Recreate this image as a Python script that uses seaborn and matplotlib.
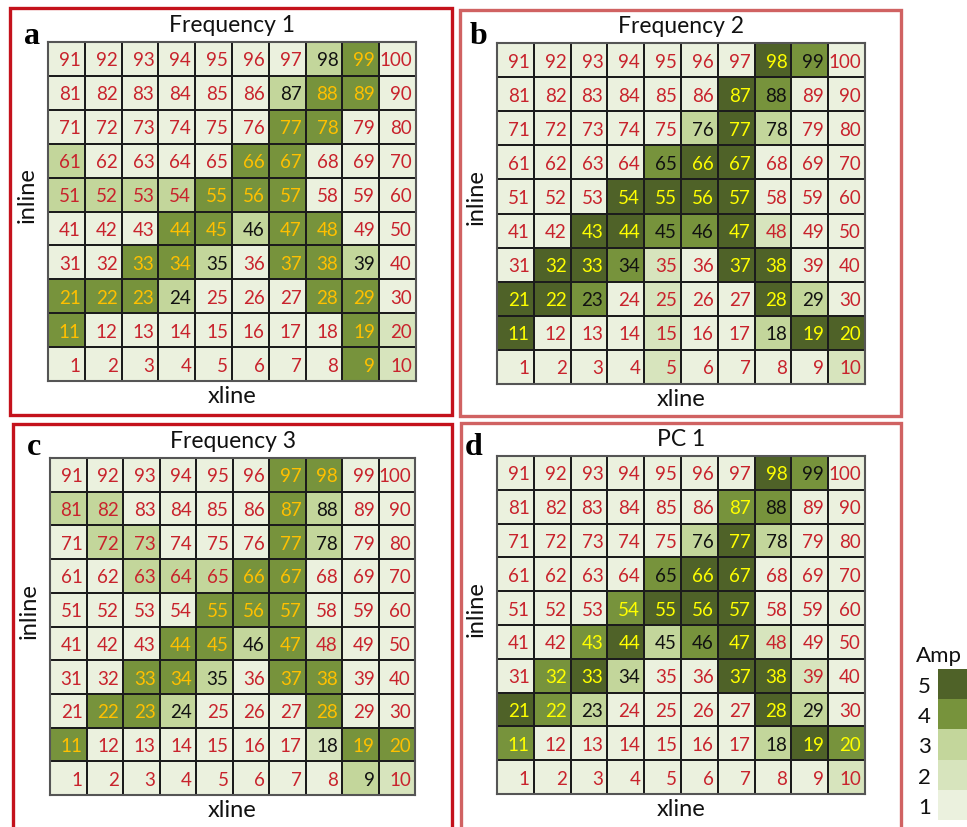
import numpy as np
import pandas as pd
import matplotlib
matplotlib.use("Agg")
import matplotlib.pyplot as plt
from matplotlib.colors import ListedColormap, BoundaryNorm
from matplotlib.patches import Rectangle
import matplotlib.cm as cm
import seaborn as sns

sns.set_theme(style="white")
plt.rcParams['font.family'] = ['Lato', 'DejaVu Sans']

# ---------------- data ----------------
titles = ["Frequency 1", "Frequency 2", "Frequency 3", "PC 1"]
letters = ["a", "b", "c", "d"]
amp_levels = [1, 2, 3, 4, 5]
level_colors = ['#ebf1de', '#d7e4bd', '#c3d69b', '#77933c', '#4f6228']

# rows from top (91-100) to bottom (1-10); digit = amplitude class
amp_a = ["1111111341", "1111113441", "1111114411", "3111144111", "3333444111",
         "1114434411", "1144314431", "4443111441", "4111111142", "1111111142"]
amp_b = ["1111111541", "1111115411", "1111135311", "1111455111", "1115555111",
         "1155445211", "1554215511", "5541211531", "5111211355", "1111211112"]
amp_c = ["1111114411", "3311114311", "1331114311", "1133344111", "1111444111",
         "1114434211", "1144314411", "1443111411", "4111111244", "1111111132"]
amp_d = ["1111111541", "1111114411", "1111135311", "1111455111", "1114555111",
         "1145345211", "1453115521", "5431111531", "4111111354", "1111111112"]

# label colour codes: r = red, k = black, o = orange, y = yellow
txt_a = ["rrrrrrrkor", "rrrrrrkoor", "rrrrrroorr", "rrrrroorrr", "rrrrooorrr",
         "rrrookoorr", "rrookrookr", "oookrrroor", "orrrrrrror", "rrrrrrrror"]
txt_b = ["rrrrrrrykr", "rrrrrrykrr", "rrrrrkykrr", "rrrrkyyrrr", "rrryyyyrrr",
         "rryykkyrrr", "ryykrryyrr", "yykrrrrykr", "yrrrrrrkyy", "rrrrrrrrrr"]
txt_c = ["rrrrrroorr", "rrrrrrokrr", "rrrrrrokrr", "rrrrroorrr", "rrrrooorrr",
         "rrrookorrr", "rrookroorr", "rookrrrorr", "orrrrrrkoo", "rrrrrrrrkr"]
txt_d = ["rrrrrrrykr", "rrrrrrykrr", "rrrrrkykrr", "rrrrkyyrrr", "rrryyyyrrr",
         "rryykkyrrr", "ryykrryyrr", "yykrrrrykr", "yrrrrrrkyy", "rrrrrrrrrr"]

inline_rows = list(range(10, 0, -1))
xline_cols = list(range(1, 11))

amps = [amp_a, amp_b, amp_c, amp_d]
txts = [txt_a, txt_b, txt_c, txt_d]
text_colors = {'r': '#c8232c', 'k': '#111111', 'o': '#ffc000', 'y': '#ffff00'}

# ---------------- layout ----------------
W, H = 967, 828
fig = plt.figure(figsize=(W / 100, H / 100), dpi=100)

def fx(px):
    return px / W

def fy(py):
    return 1 - py / H

# heatmap boxes in pixels: left, top, right, bottom
hm_boxes = [(48, 43, 416, 382), (497, 44, 865, 385),
            (50, 459, 415, 796), (497, 457, 865, 795)]
frame_boxes = [(10, 9, 452, 416), (460, 11, 901, 417),
               (13, 425, 452, 830), (461, 424, 901, 830)]
frame_colors = ['#c4121c', '#d06262', '#c4121c', '#d06262']
letter_pos = [(32, 36), (479, 36), (34, 448), (474, 448)]

cmap = ListedColormap(level_colors)

for k in range(4):
    l, t, r, b = hm_boxes[k]
    ax = fig.add_axes([fx(l), fy(b), fx(r) - fx(l), fy(t) - fy(b)])
    grid = np.array([[int(ch) for ch in row] for row in amps[k]])
    nums = np.array([[(inline_rows[i] - 1) * 10 + xline_cols[j] for j in range(10)]
                     for i in range(10)])
    df = pd.DataFrame(grid, index=inline_rows, columns=xline_cols)
    sns.heatmap(df, ax=ax, cmap=cmap, vmin=0.5, vmax=5.5, cbar=False,
                linewidths=1.1, linecolor='#1c1c1c',
                annot=nums.astype(str), fmt='',
                annot_kws=dict(fontsize=13.5))
    codes = "".join(txts[k])
    for idx, tx in enumerate(ax.texts):
        x0, y0 = tx.get_position()
        tx.set_position((x0 + 0.39, y0 + 0.03))
        tx.set_ha('right')
        tx.set_color(text_colors[codes[idx]])
    ax.set_xticks([])
    ax.set_yticks([])
    ax.set_xlabel("")
    ax.set_ylabel("")
    for sp in ax.spines.values():
        sp.set_visible(True)
        sp.set_color('#555555')
        sp.set_linewidth(1.5)
    ax.set_title(titles[k], fontsize=16.5, pad=8, color='#111111')
    ax.text(0.5, -0.012, "xline", transform=ax.transAxes, ha='center', va='top',
            fontsize=17, color='#111111')
    ax.text(-0.057, 0.55, "inline", transform=ax.transAxes, ha='center',
            va='center', rotation=90, fontsize=17, color='#111111')
    # panel frame
    fl, ft, fr, fb = frame_boxes[k]
    fig.patches.append(Rectangle((fx(fl), fy(fb)), fx(fr) - fx(fl), fy(ft) - fy(fb),
                                 transform=fig.transFigure, fill=False,
                                 edgecolor=frame_colors[k], linewidth=2.4))
    lx, ly = letter_pos[k]
    fig.text(fx(lx), fy(ly), letters[k], ha='center', va='center', fontsize=23,
             fontweight='bold', family='Liberation Serif', color='black')

# ---------------- legend ----------------
cax = fig.add_axes([fx(938), fy(821), fx(967) - fx(938), fy(670) - fy(821)])
norm = BoundaryNorm([0.5, 1.5, 2.5, 3.5, 4.5, 5.5], cmap.N)
cb = fig.colorbar(cm.ScalarMappable(norm=norm, cmap=cmap), cax=cax,
                  ticks=amp_levels)
cb.outline.set_visible(False)
cax.minorticks_off()
cax.yaxis.set_ticks_position('left')
cax.tick_params(which='both', length=0, left=False, right=False,
                labelsize=16, pad=5, labelcolor='#111111')
fig.text(fx(939), fy(656), "Amp", ha='center', va='center', fontsize=16,
         color='#111111')

fig.savefig("out.png", dpi=100)
